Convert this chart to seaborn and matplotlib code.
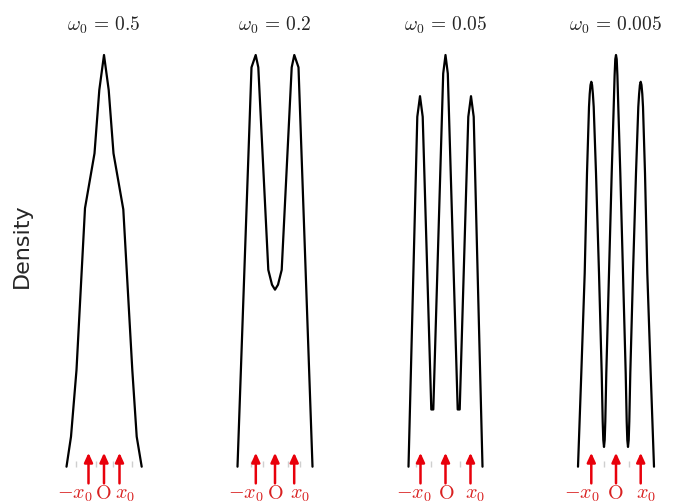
import matplotlib
matplotlib.use("Agg")
import matplotlib.pyplot as plt
import matplotlib.transforms as mtransforms
import seaborn as sns
import pandas as pd

# ---- data ----
omegas = ["0.5", "0.2", "0.05", "0.005"]

p1_x = [-3.75, -3.3, -2.75, -1.9, -0.95, -0.47, 0.0, 0.47, 0.95, 1.93, 2.83, 3.27, 3.77]
p1_y = [0.0, 0.073, 0.235, 0.628, 0.761, 0.915, 1.0, 0.915, 0.761, 0.625, 0.235, 0.073, 0.0]

p2_x = [-3.75, -2.35, -1.93, -1.67, -0.67, -0.3, 0.0, 0.3, 0.67, 1.67, 1.93, 2.35, 3.75]
p2_y = [0.0, 0.97, 1.0, 0.97, 0.478, 0.442, 0.43, 0.442, 0.478, 0.97, 1.0, 0.97, 0.0]

p3_x = [-3.7, -2.82, -2.55, -2.28, -1.42, -1.22, -0.23, 0.0, 0.23, 1.22, 1.42, 2.28, 2.55, 2.82, 3.7]
p3_y = [0.0, 0.85, 0.9, 0.85, 0.139, 0.139, 0.955, 1.0, 0.955, 0.139, 0.139, 0.85, 0.9, 0.85, 0.0]

p4_x = [-3.8, -3.47, -3.13, -2.9, -2.7, -2.63, -2.55, -2.47, -2.39, -2.31, -2.23, -2.0, -1.7, -1.43,
        -1.33, -1.27, -1.2, -1.13, -1.07, -0.97, -0.7, -0.43, -0.23, -0.14, -0.07, 0.0, 0.07, 0.14,
        0.23, 0.43, 0.7, 0.97, 1.07, 1.13, 1.2, 1.27, 1.33, 1.43, 1.7, 2.0, 2.23, 2.31, 2.39, 2.47,
        2.55, 2.63, 2.7, 2.9, 3.13, 3.47, 3.8]
p4_y = [0.0, 0.227, 0.47, 0.713, 0.874, 0.905, 0.927, 0.935, 0.927, 0.905, 0.874, 0.713, 0.47, 0.227,
        0.11, 0.065, 0.048, 0.065, 0.11, 0.227, 0.47, 0.713, 0.874, 0.95, 0.99, 1.0, 0.99, 0.95,
        0.874, 0.713, 0.47, 0.227, 0.11, 0.065, 0.048, 0.065, 0.11, 0.227, 0.47, 0.713, 0.874, 0.905,
        0.927, 0.935, 0.927, 0.905, 0.874, 0.713, 0.47, 0.227, 0.0]

curves_x = [p1_x, p2_x, p3_x, p4_x]
curves_y = [p1_y, p2_y, p3_y, p4_y]

x0_values = [1.55, 1.92, 2.5, 2.47]
marker_labels = [r"$-x_0$", r"$\mathrm{O}$", r"$x_0$"]

# ---- layout / style ----
tick_pos = [[-2.8, -0.85, 0.9, 2.8], [-2.4, -1.2, 1.3, 2.5], [-2.95, -1.48, 1.45, 2.52], [-1.25, 1.25]]
label_pos = [[-2.95, -0.05, 2.1], [-2.92, 0.05, 2.5], [-3.15, 0.05, 2.95], [-3.4, -0.05, 3.0]]

sns.set_style("white")
plt.rcParams["mathtext.fontset"] = "cm"
plt.rcParams["font.family"] = ["DejaVu Sans"]

W, H = 682, 504
fig = plt.figure(figsize=(W / 100, H / 100), dpi=100)

centers = [104, 275, 445.5, 616]
ax_w = 100
bottom_px = 466.7
top_px = 55.0

for i, (cx, om) in enumerate(zip(centers, omegas)):
    ax = fig.add_axes([(cx - ax_w / 2) / W, (H - bottom_px) / H, ax_w / W, (bottom_px - top_px) / H])
    df = pd.DataFrame({"x": curves_x[i], "density": curves_y[i]})
    sns.lineplot(data=df, x="x", y="density", ax=ax, color="black", lw=1.6,
                 sort=False, estimator=None, clip_on=False)
    ax.set_xlim(-5, 5)
    ax.set_ylim(0, 1)
    sns.despine(ax=ax, left=True, bottom=True)
    ax.set_yticks([])
    ax.set_xticks(tick_pos[i])
    ax.tick_params(axis="x", bottom=True, direction="in", length=4, width=1.0,
                   color="#cfcfcf", labelbottom=False)
    ax.set_xlabel("")
    ax.set_ylabel("")
    ax.set_title(r"$\omega_0\,=\,%s$" % om, fontsize=14, pad=17.5)

    xt = ax.get_xaxis_transform()
    head_tr = mtransforms.offset_copy(xt, fig=fig, y=10, units="points")
    tail_tr = mtransforms.offset_copy(xt, fig=fig, y=-12, units="points")
    x0 = x0_values[i]
    for xpos in (-x0, 0.0, x0):
        ax.annotate("", xy=(xpos, 0), xycoords=head_tr, xytext=(xpos, 0), textcoords=tail_tr,
                    arrowprops=dict(arrowstyle="-|>,head_length=0.55,head_width=0.25",
                                    color="#e8000b", lw=1.8, shrinkA=0, shrinkB=0),
                    annotation_clip=False)
    lab_tr = mtransforms.offset_copy(xt, fig=fig, y=-23, units="points")
    for lx, lab in zip(label_pos[i], marker_labels):
        ax.text(lx, 0, lab, transform=lab_tr, ha="center", va="baseline",
                fontsize=14.5, color="#d92020", clip_on=False)

fig.text(22 / W, 1 - 246 / H, "Density", rotation=90, ha="center", va="center", fontsize=16)

fig.savefig("out.png", dpi=100)
